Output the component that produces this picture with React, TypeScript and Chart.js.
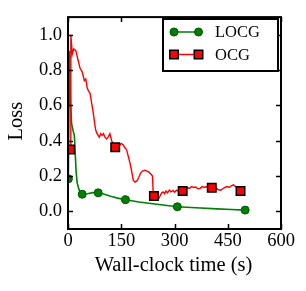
import React, { useEffect, useRef } from "react";
import { Chart, registerables } from "chart.js";

Chart.register(...registerables);

const locgTime = [1, 4, 7, 10, 15, 18, 21, 23, 26, 30, 35, 40, 55, 70, 85, 100, 120, 140, 162, 200, 250, 308, 360, 420, 460, 499];
const locgLoss = [0.184, 0.91, 0.62, 0.5, 0.45, 0.43, 0.3, 0.22, 0.16, 0.13, 0.105, 0.097, 0.1, 0.106, 0.105, 0.098, 0.086, 0.075, 0.066, 0.053, 0.04, 0.026, 0.02, 0.014, 0.01, 0.007];
const locgMarkerTimes = [1, 40, 85, 162, 308, 499];

const ocgTime = [6, 8, 12, 16, 22, 28, 34, 40, 46, 50, 54, 58, 62, 66, 71, 75, 78, 82, 85, 88, 92, 96, 100, 104, 109, 113, 118, 123, 128, 133, 138, 144, 150, 156, 160, 165, 170, 175, 180, 184, 189, 194, 199, 204, 210, 217, 222, 228, 234, 238, 240, 242, 248, 254, 260, 264, 268, 272, 276, 280, 286, 290, 296, 300, 306, 312, 318, 323, 330, 336, 342, 348, 354, 360, 366, 372, 378, 384, 390, 396, 405, 412, 418, 424, 430, 436, 442, 448, 454, 460, 466, 472, 478, 486];
const ocgLoss = [0.35, 1.0, 0.89, 0.92, 0.91, 0.86, 0.81, 0.79, 0.74, 0.75, 0.7, 0.68, 0.67, 0.62, 0.56, 0.5, 0.46, 0.44, 0.43, 0.42, 0.44, 0.43, 0.44, 0.42, 0.41, 0.42, 0.44, 0.4, 0.38, 0.363, 0.38, 0.37, 0.385, 0.376, 0.36, 0.35, 0.31, 0.27, 0.22, 0.175, 0.166, 0.172, 0.19, 0.215, 0.228, 0.233, 0.228, 0.222, 0.21, 0.2, 0.1, 0.087, 0.08, 0.066, 0.09, 0.105, 0.11, 0.1, 0.115, 0.105, 0.12, 0.11, 0.118, 0.108, 0.12, 0.112, 0.118, 0.115, 0.125, 0.135, 0.13, 0.14, 0.135, 0.138, 0.128, 0.13, 0.14, 0.135, 0.14, 0.13, 0.133, 0.125, 0.13, 0.122, 0.12, 0.128, 0.135, 0.14, 0.135, 0.145, 0.15, 0.14, 0.14, 0.115];
const ocgMarkerTimes = [6, 133, 242, 323, 405, 486];

const xTicks = [0, 150, 300, 450, 600];
const yTicks = [0.0, 0.2, 0.4, 0.6, 0.8, 1.0];

const FONT = "'Liberation Serif', 'Times New Roman', serif";

const GREEN = "#007f00";
const GREEN_EDGE = "#005500";
const RED = "#ff0000";

function drawMarker(ctx: CanvasRenderingContext2D, kind: string, x: number, y: number) {
  ctx.save();
  if (kind === "circle") {
    ctx.beginPath();
    ctx.arc(x, y, 4, 0, Math.PI * 2);
    ctx.fillStyle = GREEN;
    ctx.fill();
    ctx.lineWidth = 1;
    ctx.strokeStyle = GREEN_EDGE;
    ctx.stroke();
  } else {
    ctx.fillStyle = RED;
    ctx.fillRect(x - 4.25, y - 4.25, 8.5, 8.5);
    ctx.lineWidth = 1.5;
    ctx.strokeStyle = "#000";
    ctx.strokeRect(x - 4.25, y - 4.25, 8.5, 8.5);
  }
  ctx.restore();
}

const framePlugin = {
  id: "frameTicks",
  afterDatasetsDraw(chart: any) {
    const { ctx, chartArea } = chart;
    const xs = chart.scales.x;
    const ys = chart.scales.y;
    ctx.save();
    ctx.strokeStyle = "#000";
    ctx.lineWidth = 1.5;
    const tl = 5;
    ctx.beginPath();
    for (const v of yTicks) {
      const py = Math.round(ys.getPixelForValue(v)) + 0.5;
      ctx.moveTo(chartArea.left, py);
      ctx.lineTo(chartArea.left + tl, py);
      ctx.moveTo(chartArea.right, py);
      ctx.lineTo(chartArea.right - tl, py);
    }
    for (const v of xTicks) {
      const px = Math.round(xs.getPixelForValue(v)) + 0.5;
      ctx.moveTo(px, chartArea.top);
      ctx.lineTo(px, chartArea.top + tl);
      ctx.moveTo(px, chartArea.bottom);
      ctx.lineTo(px, chartArea.bottom - tl);
    }
    ctx.stroke();
    ctx.lineWidth = 2;
    ctx.strokeRect(chartArea.left, chartArea.top, chartArea.right - chartArea.left, chartArea.bottom - chartArea.top);
    ctx.restore();
  },
  afterDraw(chart: any) {
    const { ctx, chartArea } = chart;
    ctx.save();
    ctx.fillStyle = "#000";
    ctx.font = `20.5px ${FONT}`;
    ctx.textAlign = "center";
    ctx.textBaseline = "middle";
    ctx.fillText("Wall-clock time (s)", (chartArea.left + chartArea.right) / 2 - 1, 266);
    ctx.save();
    ctx.translate(17, (chartArea.top + chartArea.bottom) / 2 - 2);
    ctx.rotate(-Math.PI / 2);
    ctx.fillText("Loss", 0, 0);
    ctx.restore();

    const bx = 163, by = 19, bw = 115, bh = 52;
    ctx.fillStyle = "#fff";
    ctx.fillRect(bx, by, bw, bh);
    ctx.lineWidth = 2;
    ctx.strokeStyle = "#000";
    ctx.strokeRect(bx, by, bw, bh);
    const rows = [
      { label: "LOCG", color: GREEN, kind: "circle", y: 32 },
      { label: "OCG", color: RED, kind: "rect", y: 54.5 },
    ];
    for (const r of rows) {
      ctx.beginPath();
      ctx.strokeStyle = r.color;
      ctx.lineWidth = 1.5;
      ctx.moveTo(174, r.y);
      ctx.lineTo(198.5, r.y);
      ctx.stroke();
      drawMarker(ctx, r.kind, 174, r.y);
      drawMarker(ctx, r.kind, 198.5, r.y);
      ctx.fillStyle = "#000";
      ctx.font = `16.5px ${FONT}`;
      ctx.textAlign = "left";
      ctx.textBaseline = "middle";
      ctx.fillText(r.label, 215, r.y + 1);
    }
    ctx.restore();
  },
};

export default function App() {
  const ref = useRef<HTMLCanvasElement | null>(null);
  useEffect(() => {
    if (!ref.current) return;
    const locgMarkIdx = locgMarkerTimes.map((t) => locgTime.indexOf(t));
    const ocgMarkIdx = ocgMarkerTimes.map((t) => ocgTime.indexOf(t));
    const chart = new Chart(ref.current, {
      type: "line",
      data: {
        datasets: [
          {
            label: "OCG",
            data: ocgTime.map((t, i) => ({ x: t, y: ocgLoss[i] })),
            borderColor: RED,
            borderWidth: 1.4,
            backgroundColor: RED,
            pointStyle: "rect",
            pointRadius: (c: any) => (ocgMarkIdx.includes(c.dataIndex) ? 6 : 0),
            pointBorderColor: "#000",
            pointBorderWidth: 1.5,
            pointBackgroundColor: RED,
            tension: 0,
          },
          {
            label: "LOCG",
            data: locgTime.map((t, i) => ({ x: t, y: locgLoss[i] })),
            borderColor: GREEN,
            borderWidth: 1.6,
            backgroundColor: GREEN,
            pointStyle: "circle",
            pointRadius: (c: any) => (locgMarkIdx.includes(c.dataIndex) ? 4 : 0),
            pointBorderColor: GREEN_EDGE,
            pointBorderWidth: 1,
            pointBackgroundColor: GREEN,
            tension: 0,
          },
        ],
      },
      options: {
        animation: false,
        responsive: false,
        maintainAspectRatio: false,
        layout: { padding: { top: 11, right: 25, left: 0, bottom: 0 } },
        plugins: { legend: { display: false }, tooltip: { enabled: false } },
        scales: {
          x: {
            type: "linear",
            min: 0,
            max: 600,
            grid: { display: false, drawTicks: false },
            border: { display: false },
            ticks: {
              font: { family: FONT, size: 18.5 },
              color: "#000",
              padding: 1,
              maxRotation: 0,
              callback: (v: any) => String(v),
            },
            afterBuildTicks: (s: any) => {
              s.ticks = xTicks.map((v) => ({ value: v }));
            },
            afterFit: (s: any) => {
              s.height = 62;
            },
          },
          y: {
            type: "linear",
            min: -0.1,
            max: 1.1,
            grid: { display: false, drawTicks: false },
            border: { display: false },
            ticks: {
              font: { family: FONT, size: 18.5 },
              color: "#000",
              padding: 6,
              callback: (v: any) => Number(v).toFixed(1),
            },
            afterBuildTicks: (s: any) => {
              s.ticks = yTicks.map((v) => ({ value: v }));
            },
            afterFit: (s: any) => {
              s.width = 68;
            },
          },
        },
      },
      plugins: [framePlugin],
    } as any);
    return () => chart.destroy();
  }, []);
  return (
    <div style={{ position: "absolute", left: 0, top: 0, width: 306, height: 291, background: "#fff" }}>
      <canvas ref={ref} width={306} height={291} style={{ width: 306, height: 291, display: "block" }} />
    </div>
  );
}
